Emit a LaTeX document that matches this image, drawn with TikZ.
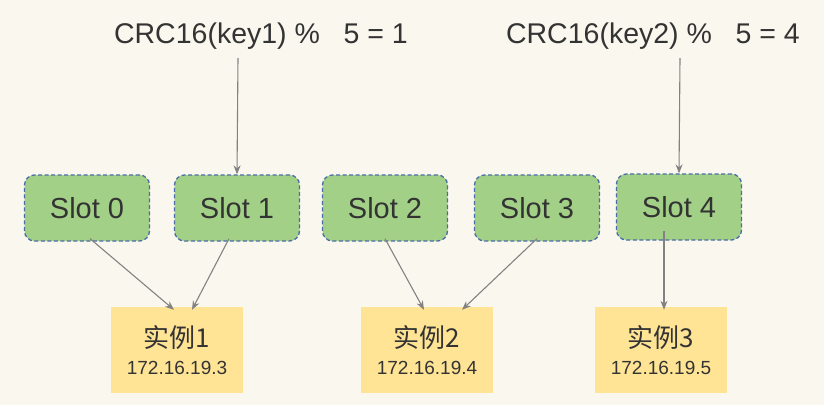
\documentclass[tikz,border=0pt]{standalone}
\usepackage{fontspec}
\setmainfont{Liberation Sans}
\newfontfamily\cjk{Noto Sans CJK SC}
\usetikzlibrary{arrows.meta}
\definecolor{bgc}{RGB}{250,248,238}
\definecolor{slotfill}{RGB}{163,208,135}
\definecolor{slotline}{RGB}{74,108,168}
\definecolor{instfill}{RGB}{255,228,150}
\definecolor{txt}{RGB}{51,51,51}
\definecolor{arr}{RGB}{130,130,130}
\tikzset{
  slotbox/.style={draw=slotline, fill=slotfill, dashed, dash pattern=on 4pt off 2.5pt, line width=1.3pt, rounded corners=10pt, minimum width=125pt, minimum height=66pt, inner sep=0pt, text=txt, font=\fontsize{29}{34}\selectfont},
  instbox/.style={fill=instfill, minimum width=132pt, minimum height=86pt, inner sep=0pt, text=txt, align=center, font=\fontsize{26}{30}\selectfont},
  formula/.style={text=txt, font=\fontsize{28.5}{34}\selectfont, inner sep=0pt},
  conn/.style={draw=arr, line width=1.1pt, -{Stealth[length=9pt,width=7pt]}}
}
\begin{document}
\begin{tikzpicture}[x=1pt,y=-1pt]
\fill[bgc] (0,0) rectangle (824,405);
\useasboundingbox (0,0) rectangle (824,405);
\node[formula] (f1) at (261,36) {CRC16(key1) \%\ \ \ 5 = 1};
\node[formula] (f2) at (653,36) {CRC16(key2) \%\ \ \ 5 = 4};
\node[slotbox] (s0) at (87,208) {Slot 0};
\node[slotbox] (s1) at (237,208) {Slot 1};
\node[slotbox] (s2) at (385,208) {Slot 2};
\node[slotbox] (s3) at (537,208) {Slot 3};
\node[slotbox] (s4) at (679,207) {Slot 4};
\node[instbox] (i1) at (177,350) {\cjk 实例1\\[-3pt]{\fontsize{19}{22}\selectfont 172.16.19.3}};
\node[instbox] (i2) at (427,350) {\cjk 实例2\\[-3pt]{\fontsize{19}{22}\selectfont 172.16.19.4}};
\node[instbox] (i3) at (661,350) {\cjk 实例3\\[-3pt]{\fontsize{19}{22}\selectfont 172.16.19.5}};
\coordinate (k1) at (238,58);
\coordinate (k2) at (680,58);
\draw[conn] (k1) -- (s1.north);
\draw[conn] (k2) -- (s4.north);
\draw[conn] ([xshift=3pt,yshift=3pt]s0.south) -- ([xshift=-3pt,yshift=-3pt]i1.north);
\draw[conn] ([xshift=-8pt,yshift=3pt]s1.south) -- ([xshift=15pt,yshift=-3pt]i1.north);
\draw[conn] ([yshift=3pt]s2.south) -- ([xshift=-3pt,yshift=-3pt]i2.north);
\draw[conn] ([yshift=3pt]s3.south) -- ([xshift=35pt,yshift=-3pt]i2.north);
\draw[conn] ([xshift=-15pt,yshift=10pt]s4.south) -- ([xshift=3pt,yshift=-3pt]i3.north);
\end{tikzpicture}
\end{document}
